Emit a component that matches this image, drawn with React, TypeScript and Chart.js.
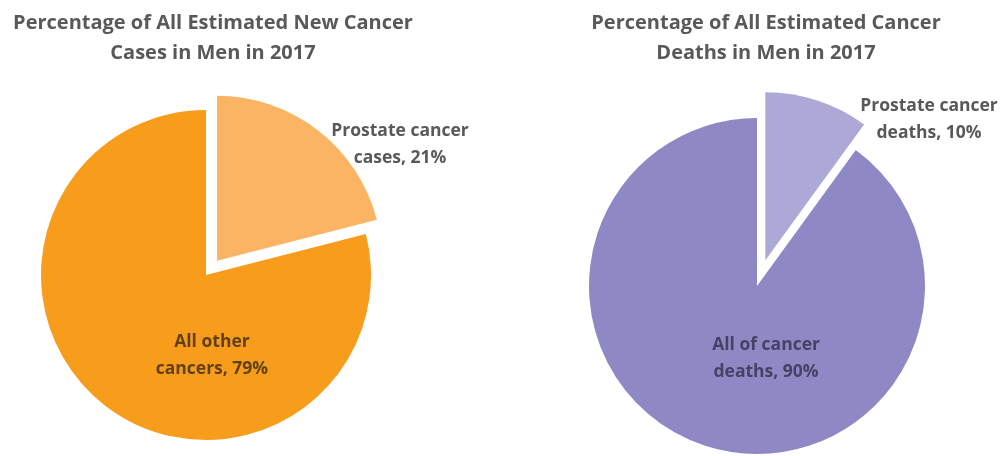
import React, { useEffect, useRef } from "react";
import { Chart, registerables } from "chart.js";

Chart.register(...registerables);

// ---- data ----
const leftCategories = ["Prostate cancer cases", "All other cancers"];
const leftValues = [21, 79];
const leftLabelLines = [["Prostate cancer", "cases,"], ["All other", "cancers,"]];
const leftTitle = ["Percentage of All Estimated New Cancer", "Cases in Men in 2017"];

const rightCategories = ["Prostate cancer deaths", "All of cancer deaths"];
const rightValues = [10, 90];
const rightLabelLines = [["Prostate cancer", "deaths,"], ["All of cancer", "deaths,"]];
const rightTitle = ["Percentage of All Estimated Cancer", "Deaths in Men in 2017"];

const leftColors = ["#FBB463", "#F89C1C"];
const rightColors = ["#ADA9D7", "#8E89C5"];

type PieCfg = {
  categories: string[];
  values: number[];
  lines: string[][];
  title: string[];
  colors: string[];
  radius: number;
  explode: number[];
  labelPos: number[][]; // relative to radius
  labelColor: string[];
  titleX: number;
  padding: { left: number; right: number; top: number; bottom: number };
  width: number;
};

const FONT = "'Open Sans', 'Noto Sans', sans-serif";

function makePlugin(cfg: PieCfg) {
  return {
    id: "custom-pie",
    beforeDatasetDraw(chart: any, args: any) {
      const ctx = chart.ctx;
      const meta = args.meta;
      meta.data.forEach((arc: any, i: number) => {
        const d = cfg.explode[i] || 0;
        const mid = (arc.startAngle + arc.endAngle) / 2;
        ctx.save();
        ctx.translate(Math.cos(mid) * d, Math.sin(mid) * d);
        arc.draw(ctx);
        ctx.restore();
      });
      return false;
    },
    afterDraw(chart: any) {
      const ctx = chart.ctx;
      const meta = chart.getDatasetMeta(0);
      const arc0 = meta.data[0];
      const cx = arc0.x;
      const cy = arc0.y;
      const r = arc0.outerRadius;
      ctx.save();
      ctx.textAlign = "center";
      ctx.textBaseline = "middle";
      // title
      ctx.fillStyle = "#595959";
      ctx.font = `bold 20px ${FONT}`;
      cfg.title.forEach((t, k) => ctx.fillText(t, cfg.titleX, 23 + k * 30));
      // data labels
      ctx.font = `bold 17.5px ${FONT}`;
      cfg.values.forEach((v, i) => {
        const lines = cfg.lines[i].slice();
        lines[lines.length - 1] = `${lines[lines.length - 1]} ${v}%`;
        const [fx, fy] = cfg.labelPos[i];
        const lx = cx + fx * r;
        const ly = cy + fy * r;
        ctx.fillStyle = cfg.labelColor[i];
        const lh = 27;
        lines.forEach((ln, k) => {
          ctx.fillText(ln, lx, ly + (k - (lines.length - 1) / 2) * lh);
        });
      });
      ctx.restore();
    },
  };
}

function PieCanvas({ cfg, left }: { cfg: PieCfg; left: number }) {
  const ref = useRef<HTMLCanvasElement | null>(null);
  useEffect(() => {
    if (!ref.current) return;
    const chart = new Chart(ref.current, {
      type: "pie",
      data: {
        labels: cfg.categories,
        datasets: [
          {
            data: cfg.values,
            backgroundColor: cfg.colors,
            borderWidth: 0,
          },
        ],
      },
      options: {
        animation: false,
        responsive: false,
        maintainAspectRatio: false,
        radius: cfg.radius,
        layout: { padding: cfg.padding },
        events: [],
        plugins: {
          legend: { display: false },
          title: { display: false },
          tooltip: { enabled: false },
        },
      } as any,
      plugins: [makePlugin(cfg)],
    });
    return () => chart.destroy();
  }, []);
  return (
    <canvas
      ref={ref}
      width={cfg.width}
      height={480}
      style={{ position: "absolute", left, top: 0, width: cfg.width, height: 480 }}
    />
  );
}

const leftCfg: PieCfg = {
  categories: leftCategories,
  values: leftValues,
  lines: leftLabelLines,
  title: leftTitle,
  colors: leftColors,
  radius: 165,
  explode: [18, 0],
  labelPos: [
    [1.176, -0.79],
    [0.036, 0.49],
  ],
  labelColor: ["#595959", "rgba(80,55,20,0.9)"],
  titleX: 213,
  padding: { left: 30, right: 98, top: 95, bottom: 25 },
  width: 480,
};

const rightCfg: PieCfg = {
  categories: rightCategories,
  values: rightValues,
  lines: rightLabelLines,
  title: rightTitle,
  colors: rightColors,
  radius: 168,
  explode: [27, 0],
  labelPos: [
    [1.024, -0.99],
    [0.054, 0.432],
  ],
  labelColor: ["#595959", "rgba(60,60,90,0.9)"],
  titleX: 286,
  padding: { left: 97, right: 68, top: 106, bottom: 14 },
  width: 525,
};

export default function App() {
  return (
    <div
      style={{
        position: "absolute",
        left: 0,
        top: 0,
        width: 1005,
        height: 456,
        overflow: "hidden",
        background: "#ffffff",
      }}
    >
      <PieCanvas cfg={leftCfg} left={0} />
      <PieCanvas cfg={rightCfg} left={480} />
    </div>
  );
}
